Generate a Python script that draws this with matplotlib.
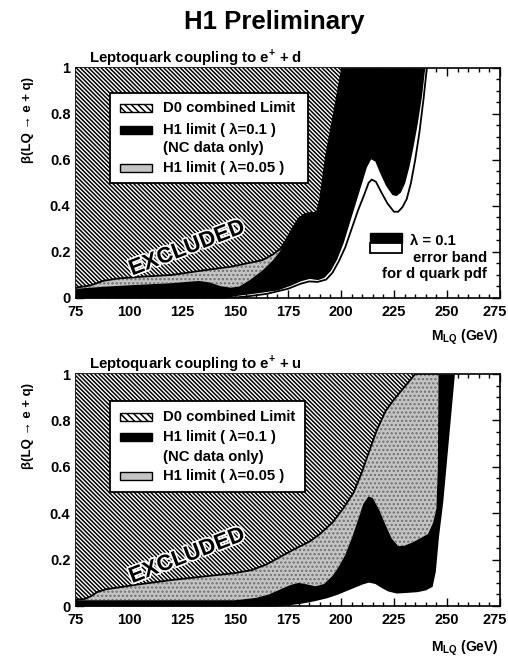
import numpy as np
import matplotlib
matplotlib.use('Agg')
import matplotlib.pyplot as plt
import matplotlib.transforms as mtransforms
from matplotlib.patches import Rectangle
from matplotlib.ticker import MultipleLocator, FuncFormatter
import matplotlib.patheffects as pe

plt.rcParams['font.family'] = ['Liberation Sans', 'DejaVu Sans']
plt.rcParams['font.weight'] = 'bold'
plt.rcParams['mathtext.fontset'] = 'custom'
plt.rcParams['mathtext.rm'] = 'Liberation Sans:bold'
plt.rcParams['mathtext.bf'] = 'Liberation Sans:bold'
plt.rcParams['hatch.linewidth'] = 1.1

# --- e+ d panel ---
d_d0_m = [75, 82, 88, 95, 105, 120, 135, 148, 158, 163, 168, 171.5, 174, 177, 180, 183, 186, 188.5, 190, 191.5, 193, 195, 197, 199, 200.5]
d_d0_b = [0.045, 0.055, 0.075, 0.085, 0.092, 0.1, 0.12, 0.136, 0.155, 0.165, 0.19, 0.215, 0.25, 0.3, 0.345, 0.365, 0.37, 0.37, 0.42, 0.52, 0.62, 0.72, 0.82, 0.92, 1.0]

d_h105_m = [75, 88, 104, 119, 127, 133, 138, 143, 148, 152, 157, 163, 168, 171, 174]
d_h105_b = [0.04, 0.049, 0.057, 0.064, 0.07, 0.074, 0.068, 0.052, 0.045, 0.05, 0.078, 0.12, 0.165, 0.2, 0.25]

d_h101_m = [75, 145, 150, 160, 170, 176, 181, 185, 189, 192, 195, 198, 201, 204, 207, 210, 212, 214, 216, 218, 221, 224, 226, 228, 230, 232, 234, 236, 238, 239.5]
d_h101_b = [0.0, 0.0, 0.01, 0.022, 0.035, 0.055, 0.075, 0.085, 0.08, 0.09, 0.12, 0.17, 0.24, 0.33, 0.42, 0.51, 0.57, 0.605, 0.595, 0.55, 0.49, 0.45, 0.445, 0.46, 0.5, 0.57, 0.66, 0.76, 0.88, 1.0]

d_pdf_m = [147, 155, 165, 175, 181, 185, 189, 193, 196, 199, 202, 205, 208, 211, 213, 214.5, 216.5, 219, 222, 225, 227, 229, 231, 233, 235, 237, 239, 240.5]
d_pdf_b = [0.0, 0.006, 0.018, 0.04, 0.062, 0.072, 0.07, 0.08, 0.11, 0.16, 0.22, 0.3, 0.38, 0.45, 0.5, 0.515, 0.505, 0.46, 0.41, 0.375, 0.375, 0.395, 0.43, 0.5, 0.6, 0.72, 0.87, 1.0]

# --- e+ u panel ---
u_d0_m = [75, 79, 82, 85, 89, 95, 102, 110, 120, 130, 140, 150, 158, 165, 171, 178, 185, 190, 196, 201, 206, 210, 213, 217, 221, 225, 230, 235]
u_d0_b = [0.028, 0.03, 0.042, 0.06, 0.072, 0.08, 0.09, 0.1, 0.112, 0.122, 0.132, 0.142, 0.155, 0.18, 0.21, 0.245, 0.277, 0.31, 0.36, 0.42, 0.49, 0.58, 0.66, 0.76, 0.84, 0.89, 0.945, 1.0]

u_h105_m = [75, 150, 160, 166, 171, 176, 180, 184, 188, 192, 196, 199, 202, 205, 208, 210.5, 213, 215, 218, 221, 224, 227, 230, 234, 238, 241, 243.5, 245, 245.7, 246]
u_h105_b = [0.025, 0.025, 0.035, 0.05, 0.07, 0.09, 0.1, 0.093, 0.085, 0.095, 0.13, 0.17, 0.22, 0.29, 0.37, 0.44, 0.473, 0.465, 0.415, 0.35, 0.29, 0.258, 0.26, 0.275, 0.295, 0.31, 0.36, 0.42, 0.6, 1.0]

u_h101_m = [75, 168, 175, 181, 187, 193, 198, 202, 206, 210, 213, 216, 219, 222, 226, 230, 236, 240, 243, 244.5, 246, 248, 249.5, 251.5, 253.5]
u_h101_b = [0.0, 0.0, 0.005, 0.012, 0.022, 0.035, 0.05, 0.065, 0.08, 0.095, 0.103, 0.097, 0.08, 0.065, 0.056, 0.058, 0.062, 0.07, 0.085, 0.15, 0.3, 0.45, 0.6, 0.8, 1.0]

xticks = [75, 100, 125, 150, 175, 200, 225, 250, 275]

GRAY = '#c4c4c4'
DOTS = '#707070'
HATCH = '\\' * 8


def tick_fmt(v, pos):
    if abs(v) < 1e-9:
        return '0'
    if abs(v - 1) < 1e-9:
        return '1'
    return f'{v:.1f}'


def style_axes(ax):
    ax.set_xlim(75, 275)
    ax.set_ylim(0, 1)
    ax.set_xticks(xticks)
    ax.xaxis.set_minor_locator(MultipleLocator(5))
    ax.yaxis.set_major_locator(MultipleLocator(0.2))
    ax.yaxis.set_minor_locator(MultipleLocator(0.05))
    ax.yaxis.set_major_formatter(FuncFormatter(tick_fmt))
    ax.tick_params(which='both', direction='in', top=True, right=True, width=1.0)
    ax.tick_params(which='major', length=6, labelsize=10.5)
    ax.tick_params(which='minor', length=3)
    ax.tick_params(axis='x', which='major', pad=5)
    ax.tick_params(axis='y', which='major', pad=4)
    for s in ax.spines.values():
        s.set_linewidth(1.2)
    # last x label sits a bit left, as in the original
    lab = ax.get_xticklabels()[-1]
    lab.set_transform(lab.get_transform() + mtransforms.ScaledTranslation(-5 / 100, 0, ax.figure.dpi_scale_trans))


def draw_panel(ax, d0_m, d0_b, g_m, g_b, k_m, k_b):
    # H1 lambda = 0.1 (black), H1 lambda = 0.05 (gray), D0 (hatched) on top
    ax.fill_between(k_m, k_b, 1, color='black', lw=0, zorder=1)
    ax.fill_between(g_m, g_b, 1, facecolor=GRAY, edgecolor=DOTS, hatch='....', lw=0, zorder=2)
    ax.fill(list(d0_m) + [75], list(d0_b) + [1], facecolor='white', edgecolor='black',
            hatch=HATCH, lw=0, zorder=3)
    ax.plot(d0_m, d0_b, color='black', lw=1.3, zorder=4)
    ax.text(127.5, 0.215, 'EXCLUDED', fontsize=16, fontweight='bold', rotation=21,
            ha='center', va='center', zorder=5,
            path_effects=[pe.withStroke(linewidth=2.5, foreground='white')])


def draw_legend(ax, x0, y0, w, h, rows):
    ax.add_patch(Rectangle((x0, y0), w, h, transform=ax.transAxes, facecolor='white',
                           edgecolor='black', lw=1.3, zorder=6))
    sx, sw, sh = 0.104, 0.075, 0.034
    ry_d0, ry_k, ry_nc, ry_g = rows
    ax.add_patch(Rectangle((sx, ry_d0 - sh / 2), sw, sh, transform=ax.transAxes, facecolor='white',
                           edgecolor='black', hatch='\\' * 5, lw=1, zorder=7))
    ax.add_patch(Rectangle((sx, ry_k - sh / 2), sw, sh, transform=ax.transAxes, facecolor='black',
                           edgecolor='black', lw=1, zorder=7))
    ax.add_patch(Rectangle((sx, ry_g - sh / 2), sw, sh, transform=ax.transAxes, facecolor=GRAY,
                           edgecolor='black', lw=1, zorder=7))
    tx = 0.205
    kw = dict(transform=ax.transAxes, fontsize=10.7, fontweight='bold', va='center', ha='left', zorder=8)
    ax.text(tx, ry_d0, 'D0 combined Limit', **kw)
    ax.text(tx, ry_k, 'H1 limit ( λ=0.1 )', **kw)
    ax.text(tx, ry_nc, '(NC data only)', **kw)
    ax.text(tx, ry_g, 'H1 limit ( λ=0.05 )', **kw)


def labels(ax, quark):
    ax.text(0.031, 1.045, 'Leptoquark coupling to e$^{+}$ + ' + quark, transform=ax.transAxes,
            fontsize=10.8, fontweight='bold', ha='left', va='center')
    ax.text(-0.113, 0.775, 'β(LQ → e + q)', transform=ax.transAxes, rotation=90,
            fontsize=9.5, fontweight='bold', ha='center', va='center')


fig = plt.figure(figsize=(5.08, 6.6), dpi=100)
fig.text(0.539, 0.967, 'H1 Preliminary', fontsize=18.5, fontweight='bold', ha='center', va='center')

# ---------- e+ d ----------
ax1 = fig.add_axes([0.1496, 0.5485, 0.8346, 0.3485])
draw_panel(ax1, d_d0_m, d_d0_b, d_h105_m, d_h105_b, d_h101_m, d_h101_b)
ax1.plot(d_pdf_m, d_pdf_b, color='black', lw=1.3, zorder=4)
style_axes(ax1)
labels(ax1, 'd')
draw_legend(ax1, 0.080, 0.50, 0.467, 0.391, (0.826, 0.730, 0.652, 0.565))
# error band key
ax1.add_patch(Rectangle((0.693, 0.239), 0.077, 0.042, transform=ax1.transAxes, facecolor='black',
                        edgecolor='black', lw=1, zorder=7))
ax1.add_patch(Rectangle((0.693, 0.197), 0.077, 0.042, transform=ax1.transAxes, facecolor='white',
                        edgecolor='black', lw=1.3, zorder=7))
ax1.text(0.788, 0.248, 'λ = 0.1', transform=ax1.transAxes, fontsize=10.7, fontweight='bold',
         ha='left', va='center')
ax1.text(0.969, 0.174, 'error band', transform=ax1.transAxes, fontsize=10.7, fontweight='bold',
         ha='right', va='center')
ax1.text(0.969, 0.106, 'for d quark pdf', transform=ax1.transAxes, fontsize=10.7, fontweight='bold',
         ha='right', va='center')
ax1.text(0.997, -0.17, '$\\mathbf{M_{LQ}}$ (GeV)', transform=ax1.transAxes, fontsize=10,
         fontweight='bold', ha='right', va='center')

# ---------- e+ u ----------
ax2 = fig.add_axes([0.1496, 0.0818, 0.8346, 0.3515])
draw_panel(ax2, u_d0_m, u_d0_b, u_h105_m, u_h105_b, u_h101_m, u_h101_b)
style_axes(ax2)
labels(ax2, 'u')
draw_legend(ax2, 0.080, 0.493, 0.46, 0.392, (0.816, 0.727, 0.644, 0.560))
ax2.text(0.997, -0.181, '$\\mathbf{M_{LQ}}$ (GeV)', transform=ax2.transAxes, fontsize=10,
         fontweight='bold', ha='right', va='center')

plt.savefig('out.png', dpi=100)
